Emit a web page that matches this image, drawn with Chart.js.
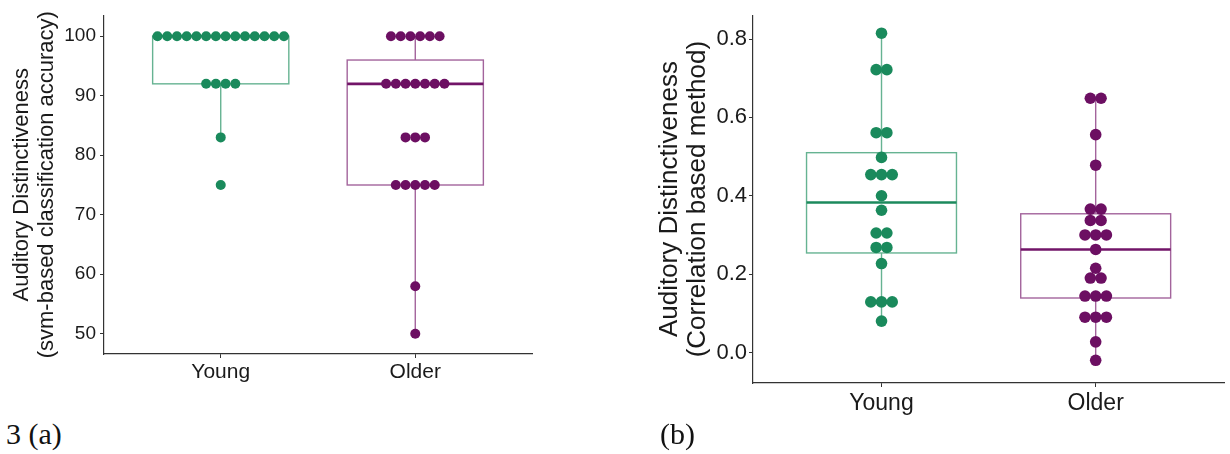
<!DOCTYPE html>
<html>
<head>
<meta charset="utf-8">
<script src="https://cdn.jsdelivr.net/npm/chart.js@4/dist/chart.umd.min.js"></script>
<style>
  body { margin: 0; background: #fff; width: 1230px; height: 454px; position: relative; overflow: hidden; }
  .panel { position: absolute; top: 0; }
  .tag { position: absolute; font-family: "Liberation Serif", serif; font-size: 30px; color: #111; line-height: 34px; }
</style>
</head>
<body>
<div class="panel" style="left:0"><canvas id="chartA" width="560" height="390"></canvas></div>
<div class="panel" style="left:620px"><canvas id="chartB" width="610" height="430"></canvas></div>
<div class="tag" style="left:6px;top:417px">3 (a)</div>
<div class="tag" style="left:660px;top:417px">(b)</div>
<script>
const groups = ['Young', 'Older'];

// (a) svm-based classification accuracy
const svmYoung = [100,100,100,100,100,100,100,100,100,100,100,100,100,100, 92,92,92,92, 83, 75];
const svmOlder = [100,100,100,100,100,100, 92,92,92,92,92,92,92, 83,83,83, 75,75,75,75,75, 58, 50];
const svmLo = [83, 50];
const svmQ1 = [92, 75];
const svmMed = [100, 92];
const svmQ3 = [100, 96];
const svmHi = [100, 100];
const svmTicks = [50, 60, 70, 80, 90, 100];

// (b) correlation based method
const corYoung = [0.815, 0.722,0.722, 0.561,0.561, 0.498, 0.454,0.454,0.454, 0.40, 0.363, 0.305,0.305, 0.268,0.268, 0.227, 0.129,0.129,0.129, 0.08];
const corOlder = [0.649,0.649, 0.556, 0.478, 0.366,0.366, 0.337,0.337, 0.30,0.30,0.30, 0.263, 0.215, 0.19,0.19, 0.144,0.144,0.144, 0.09,0.09,0.09, 0.027, -0.02];
const corLo = [0.08, -0.02];
const corQ1 = [0.254, 0.139];
const corMed = [0.383, 0.263];
const corQ3 = [0.51, 0.354];
const corHi = [0.815, 0.649];
const corTicks = [0.0, 0.2, 0.4, 0.6, 0.8];

const dotCol = ['#1a8a5c', '#6c0f62'];
const lineCol = ['#66b392', '#a3649c'];
const medCol = ['#1c8a5d', '#721468'];
const STEP = 0.05, HALF = 0.35;

function stackDots(vals, cat) {
  const counts = new Map();
  vals.forEach(v => counts.set(v, (counts.get(v) || 0) + 1));
  const pts = [];
  counts.forEach((n, v) => {
    for (let i = 0; i < n; i++) pts.push({ x: cat + (i - (n - 1) / 2) * STEP, y: v });
  });
  return pts;
}

const boxPlugin = {
  id: 'boxes',
  beforeDatasetsDraw(chart, args, o) {
    const { ctx, scales: { x, y } } = chart;
    ctx.save();
    o.q1.forEach((q1, i) => {
      const cx = x.getPixelForValue(i), x0 = x.getPixelForValue(i - HALF), x1 = x.getPixelForValue(i + HALF);
      const yq1 = y.getPixelForValue(q1), yq3 = y.getPixelForValue(o.q3[i]);
      ctx.strokeStyle = lineCol[i];
      ctx.lineWidth = 1.4;
      ctx.beginPath();
      ctx.moveTo(cx, y.getPixelForValue(o.hi[i])); ctx.lineTo(cx, yq3);
      ctx.moveTo(cx, yq1); ctx.lineTo(cx, y.getPixelForValue(o.lo[i]));
      ctx.stroke();
      ctx.strokeRect(x0, yq3, x1 - x0, yq1 - yq3);
      ctx.strokeStyle = medCol[i];
      ctx.lineWidth = 2.6;
      const ym = y.getPixelForValue(o.med[i]);
      ctx.beginPath(); ctx.moveTo(x0, ym); ctx.lineTo(x1, ym); ctx.stroke();
    });
    ctx.restore();
  }
};

function makeChart(id, cfg) {
  const f = 'Liberation Sans, Arial, sans-serif';
  return new Chart(document.getElementById(id), {
    type: 'scatter',
    data: {
      datasets: cfg.series.map((vals, i) => ({
        data: stackDots(vals, i), backgroundColor: dotCol[i], borderWidth: 0,
        pointRadius: cfg.r, pointHoverRadius: cfg.r
      }))
    },
    options: {
      responsive: false, animation: false, events: [],
      layout: { padding: cfg.pad },
      plugins: {
        legend: { display: false }, tooltip: { enabled: false },
        boxes: { lo: cfg.lo, q1: cfg.q1, med: cfg.med, q3: cfg.q3, hi: cfg.hi }
      },
      scales: {
        x: {
          type: 'linear', min: -0.6, max: 1.6,
          afterBuildTicks: s => { s.ticks = groups.map((g, i) => ({ value: i })); },
          afterFit: s => { s.height = cfg.xh; },
          ticks: { callback: v => groups[v], color: '#1a1a1a', padding: cfg.xpad, maxRotation: 0, font: { family: f, size: cfg.xs } },
          grid: { drawOnChartArea: false, tickLength: 4, color: '#333' },
          border: { color: '#333', width: 1.2 }
        },
        y: {
          min: cfg.min, max: cfg.max,
          afterBuildTicks: s => { s.ticks = cfg.ticks.map(v => ({ value: v })); },
          afterFit: s => { s.width = cfg.yw; },
          ticks: { callback: cfg.fmt, color: '#1a1a1a', padding: cfg.ypad, font: { family: f, size: cfg.ts } },
          grid: { drawOnChartArea: false, tickLength: 4, color: '#333' },
          border: { color: '#333', width: 1.2 },
          title: {
            display: true, text: cfg.title, color: '#1a1a1a',
            padding: { top: cfg.tp, bottom: 0 }, font: { family: f, size: cfg.tfs, lineHeight: cfg.tlh + 'px' }
          }
        }
      }
    },
    plugins: [boxPlugin]
  });
}

makeChart('chartA', {
  series: [svmYoung, svmOlder], lo: svmLo, q1: svmQ1, med: svmMed, q3: svmQ3, hi: svmHi,
  ticks: svmTicks, min: 46.6, max: 103.5, fmt: v => v,
  pad: { left: 0, top: 15, right: 28, bottom: 0 }, yw: 104, xh: 36, r: 5,
  ts: 19, xs: 21, xpad: 2, ypad: 4, tfs: 22, tlh: 25, tp: 9,
  title: ['Auditory Distinctiveness', '(svm-based classification accuracy)']
});

makeChart('chartB', {
  series: [corYoung, corOlder], lo: corLo, q1: corQ1, med: corMed, q3: corQ3, hi: corHi,
  ticks: corTicks, min: -0.078, max: 0.861, fmt: v => v.toFixed(1),
  pad: { left: 0, top: 0, right: 5, bottom: 0 }, yw: 133, xh: 47, r: 5.8,
  ts: 22, xs: 23, xpad: 3, ypad: 2, tfs: 26, tlh: 28, tp: 36,
  title: ['Auditory Distinctiveness', '(Correlation based method)']
});
</script>
</body>
</html>
